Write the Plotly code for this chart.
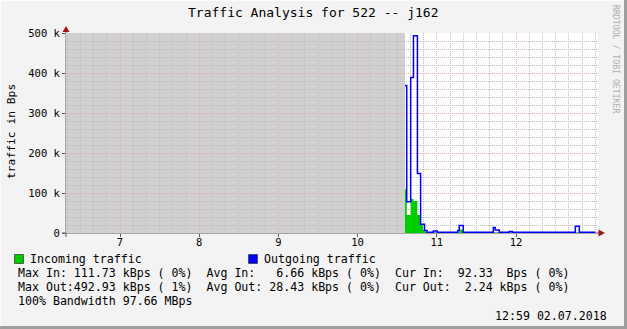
import plotly.graph_objects as go

# ---------------- data (hours of day, Bytes per second) ----------------
in_t = [10.598, 10.620, 10.670, 10.705, 10.755, 10.795, 10.825, 10.850, 10.875, 11.283, 11.334, 13.001]
in_v = [110000, 45000, 85000, 80000, 45000, 20000, 7500, 3000, 500, 9000, 500, 500]

out_t = [10.598, 10.620, 10.670, 10.705, 10.755, 10.795, 10.845, 10.875, 10.956, 11.006,
         11.264, 11.283, 11.334, 11.713, 11.737, 11.788, 11.915, 11.953, 12.749, 12.799, 13.001]
out_v = [369000, 78000, 389000, 492930, 149000, 21600, 6000, 2000, 5000, 2000,
         6000, 19000, 2000, 14000, 7500, 2000, 4000, 2000, 17000, 2000, 2000]

unknown_start = 6.318
unknown_end = 10.598
x_range = [6.318, 13.035]
y_range = [0, 500000]

x_tickvals = [7, 8, 9, 10, 11, 12]
x_ticktext = ["7", "8", "9", "10", "11", "12"]
y_tickvals = [0, 100000, 200000, 300000, 400000, 500000]
y_ticktext = ["0", "100 k", "200 k", "300 k", "400 k", "500 k"]

title = "Traffic Analysis for 522 -- j162"
legend_in = "Incoming traffic"
legend_out = "Outgoing traffic"
stats_lines = [
    "Max In: 111.73 kBps ( 0%)  Avg In:   6.66 kBps ( 0%)  Cur In:  92.33  Bps ( 0%)",
    "Max Out:492.93 kBps ( 1%)  Avg Out: 28.43 kBps ( 0%)  Cur Out:  2.24 kBps ( 0%)",
    "100% Bandwidth 97.66 MBps",
]
timestamp = "12:59 02.07.2018"
side_text = "RRDTOOL / TOBI OETIKER"
y_title = "traffic in Bps"

# ---------------- layout geometry ----------------
W, H = 627, 329
L, R, T, B = 66, 598, 33, 233
MONO = "DejaVu Sans Mono"


def px(x):
    return (x - L) / (R - L)


def py(y):
    return (B - y) / (B - T)


def nb(s):
    return s.replace(" ", "\u00a0")


fig = go.Figure()

fig.add_trace(go.Scatter(
    x=in_t, y=in_v, mode="lines", line=dict(shape="hv", width=0, color="#00cc00"),
    fill="tozeroy", fillcolor="#00cc00", hoverinfo="skip", showlegend=False))
fig.add_trace(go.Scatter(
    x=out_t, y=out_v, mode="lines", line=dict(shape="hv", width=1.5, color="#0000ff"),
    hoverinfo="skip", showlegend=False))

shapes = []
# unknown-data shading
shapes.append(dict(type="rect", xref="x", yref="y", x0=unknown_start, x1=unknown_end,
                   y0=y_range[0], y1=y_range[1], fillcolor="#d0d0d0", line=dict(width=0),
                   layer="below"))
# axes lines
axis_col = "#5a5a5a"
shapes.append(dict(type="line", xref="paper", yref="paper", x0=px(62), x1=px(600),
                   y0=py(233), y1=py(233), line=dict(color=axis_col, width=1), layer="between"))
shapes.append(dict(type="line", xref="paper", yref="paper", x0=px(66), x1=px(66),
                   y0=py(237), y1=py(30), line=dict(color=axis_col, width=1), layer="between"))
# arrows
arrow_col = "#a01818"
shapes.append(dict(type="path", xref="paper", yref="paper",
                   path=f"M {px(598.5)} {py(229.5)} L {px(605)} {py(233)} L {px(598.5)} {py(236.5)} Z",
                   fillcolor=arrow_col, line=dict(width=0), layer="above"))
shapes.append(dict(type="path", xref="paper", yref="paper",
                   path=f"M {px(62.5)} {py(32)} L {px(66)} {py(26)} L {px(69.5)} {py(32)} Z",
                   fillcolor=arrow_col, line=dict(width=0), layer="above"))
# legend boxes
shapes.append(dict(type="rect", xref="paper", yref="paper", x0=px(14.5), x1=px(23.5),
                   y0=py(263.5), y1=py(254.5), fillcolor="#00cc00",
                   line=dict(color="#404040", width=0.8), layer="above"))
shapes.append(dict(type="rect", xref="paper", yref="paper", x0=px(248.5), x1=px(257.5),
                   y0=py(263.5), y1=py(254.5), fillcolor="#0000ff",
                   line=dict(color="#404040", width=0.8), layer="above"))
# image frame (3D style)
shapes.append(dict(type="line", xref="paper", yref="paper", x0=px(0), x1=px(627),
                   y0=py(0.5), y1=py(0.5), line=dict(color="#fcfcfc", width=1), layer="above"))
shapes.append(dict(type="line", xref="paper", yref="paper", x0=px(0.5), x1=px(0.5),
                   y0=py(0), y1=py(329), line=dict(color="#fcfcfc", width=1), layer="above"))
shapes.append(dict(type="line", xref="paper", yref="paper", x0=px(0), x1=px(627),
                   y0=py(327.5), y1=py(327.5), line=dict(color="#9e9e9e", width=3), layer="above"))
shapes.append(dict(type="line", xref="paper", yref="paper", x0=px(625.5), x1=px(625.5),
                   y0=py(0), y1=py(329), line=dict(color="#9e9e9e", width=3), layer="above"))

ann = []
ann.append(dict(text=nb(title), x=px(313), y=py(13), xref="paper", yref="paper",
                xanchor="center", yanchor="middle", showarrow=False,
                font=dict(family=MONO, size=13, color="#000")))
ann.append(dict(text=nb(y_title), x=px(11), y=py(132), xref="paper", yref="paper",
                xanchor="center", yanchor="middle", showarrow=False, textangle=-90,
                font=dict(family=MONO, size=11.3, color="#000")))
ann.append(dict(text=nb(side_text), x=px(616), y=py(59), xref="paper", yref="paper",
                xanchor="center", yanchor="middle", showarrow=False, textangle=90,
                font=dict(family=MONO, size=8.2, color="#b0b0b0")))
ann.append(dict(text=nb(legend_in), x=px(28), y=py(259), xref="paper", yref="paper",
                xanchor="left", yanchor="middle", showarrow=False,
                font=dict(family=MONO, size=11.6, color="#000")))
ann.append(dict(text=nb(legend_out), x=px(262), y=py(259), xref="paper", yref="paper",
                xanchor="left", yanchor="middle", showarrow=False,
                font=dict(family=MONO, size=11.6, color="#000")))
for i, line in enumerate(stats_lines):
    ann.append(dict(text=nb(line), x=px(16), y=py(273 + 14 * i), xref="paper", yref="paper",
                    xanchor="left", yanchor="middle", showarrow=False,
                    font=dict(family=MONO, size=11.6, color="#000")))
ann.append(dict(text=nb(timestamp), x=px(609), y=py(316), xref="paper", yref="paper",
                xanchor="right", yanchor="middle", showarrow=False,
                font=dict(family=MONO, size=11.6, color="#000")))

grid_major = "#eeaaaa"
grid_minor = "#bdbdbd"

fig.update_layout(
    width=W, height=H,
    margin=dict(l=L, r=W - R, t=T, b=H - B, pad=0),
    paper_bgcolor="#f3f3f3", plot_bgcolor="#ffffff",
    showlegend=False,
    shapes=shapes, annotations=ann,
    xaxis=dict(range=x_range, tickmode="array", tickvals=x_tickvals, ticktext=x_ticktext,
               showgrid=True, gridcolor=grid_major, griddash="1px,1px", gridwidth=1,
               ticks="outside", ticklen=3, tickcolor=axis_col, showline=False, zeroline=False,
               tickfont=dict(family=MONO, size=10.5, color="#000"), ticklabelstandoff=-4,
               minor=dict(dtick=1 / 6, tick0=7, showgrid=True, gridcolor=grid_minor,
                          griddash="1px,1px", gridwidth=1, ticks=""),
               fixedrange=True),
    yaxis=dict(range=y_range, tickmode="array", tickvals=y_tickvals, ticktext=y_ticktext,
               showgrid=True, gridcolor=grid_major, griddash="1px,1px", gridwidth=1,
               ticks="outside", ticklen=3, tickcolor=axis_col, showline=False, zeroline=False,
               tickfont=dict(family=MONO, size=10.5, color="#000"),
               minor=dict(dtick=20000, tick0=0, showgrid=True, gridcolor=grid_minor,
                          griddash="1px,1px", gridwidth=1, ticks=""),
               fixedrange=True),
)

fig.write_html("out.html")
